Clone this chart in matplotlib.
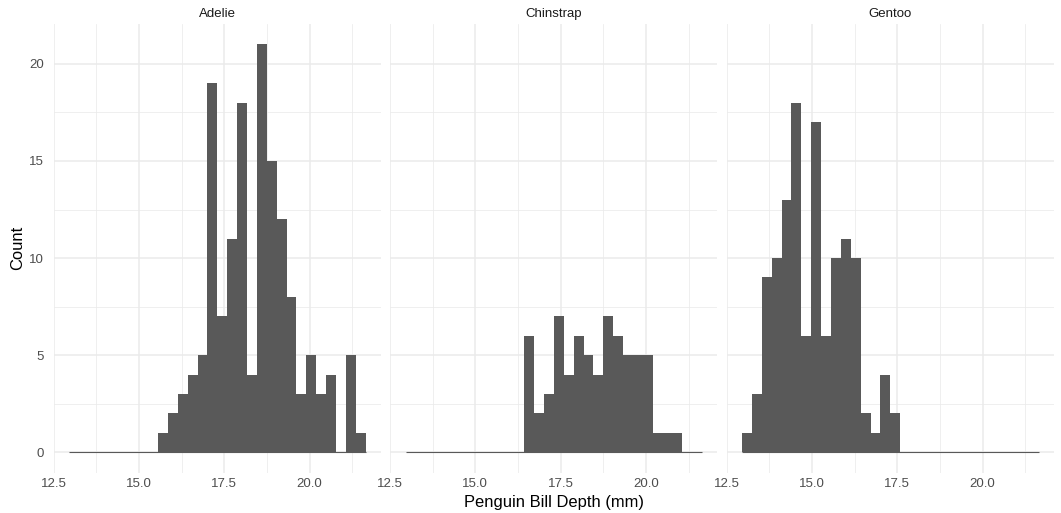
import numpy as np
import matplotlib
matplotlib.use("Agg")
import matplotlib.pyplot as plt
from matplotlib.ticker import MultipleLocator

plt.rcParams['font.family'] = ['Liberation Sans', 'DejaVu Sans']

# ---- data ----
species = ["Adelie", "Chinstrap", "Gentoo"]
depth_min = 13.1   # smallest bill depth (mm)
depth_max = 21.5   # largest bill depth (mm)
n_bins = 30
adelie_counts = [0, 0, 0, 0, 0, 0, 0, 0, 0, 1, 2, 3, 4, 5, 19,
                 7, 11, 18, 4, 21, 15, 12, 8, 3, 5, 3, 4, 0, 5, 1]
chinstrap_counts = [0, 0, 0, 0, 0, 0, 0, 0, 0, 0, 0, 0, 6, 2, 3,
                    7, 4, 6, 5, 4, 7, 6, 5, 5, 5, 1, 1, 1, 0, 0]
gentoo_counts = [1, 3, 9, 10, 13, 18, 6, 17, 6, 10, 11, 10, 2, 1, 4,
                 2, 0, 0, 0, 0, 0, 0, 0, 0, 0, 0, 0, 0, 0, 0]
counts = [adelie_counts, chinstrap_counts, gentoo_counts]
x_ticks = [12.5, 15.0, 17.5, 20.0]
x_tick_labels = ["12.5", "15.0", "17.5", "20.0"]
y_ticks = [0, 5, 10, 15, 20]

# ggplot-style bins: centred on the data min, width = range/(bins-1)
width = (depth_max - depth_min) / (n_bins - 1)
centers = depth_min + width * np.arange(n_bins)
lo_edge = centers[0] - width / 2
hi_edge = centers[-1] + width / 2

W, H = 1061, 513
fig = plt.figure(figsize=(W / 100, H / 100), dpi=100)
fig.patch.set_facecolor("white")

bar_col = "#595959"
grid_col = "#EBEBEB"
lefts = [53.5, 390.0, 726.5]
pw = 327.0
top_px, bot_px = 24.0, 472.7

ymax = max(max(c) for c in counts)
span = hi_edge - lo_edge
xlim = (lo_edge - 0.05 * span, hi_edge + 0.05 * span)
ylim = (-0.05 * ymax, ymax * 1.05)

for i, (sp, cnt) in enumerate(zip(species, counts)):
    ax = fig.add_axes([lefts[i] / W, 1 - bot_px / H, pw / W, (bot_px - top_px) / H])
    ax.set_xlim(*xlim)
    ax.set_ylim(*ylim)
    for s in ax.spines.values():
        s.set_visible(False)
    ax.xaxis.set_minor_locator(MultipleLocator(1.25))
    ax.yaxis.set_minor_locator(MultipleLocator(2.5))
    ax.set_xticks(x_ticks)
    ax.set_xticklabels(x_tick_labels)
    ax.set_yticks(y_ticks)
    ax.grid(True, which="major", color=grid_col, lw=1.1)
    ax.grid(True, which="minor", color=grid_col, lw=0.55)
    ax.set_axisbelow(True)
    ax.tick_params(which="both", length=0)
    ax.tick_params(axis="x", labelsize=9.5, labelcolor="#4D4D4D", pad=3.5)
    ax.tick_params(axis="y", labelsize=9.5, labelcolor="#4D4D4D", pad=7)
    if i > 0:
        ax.tick_params(axis="y", labelleft=False)
    ax.bar(centers, cnt, width=width, color=bar_col, linewidth=0, zorder=2)
    ax.plot([lo_edge, hi_edge], [0, 0], color=bar_col, lw=0.8, zorder=2,
            solid_capstyle="butt")
    ax.set_title(sp, fontsize=9.5, color="#1A1A1A", pad=5)

fig.text(18 / W, 1 - 248 / H, "Count", rotation=90, ha="center", va="center",
         fontsize=11.9, color="black")
fig.text((lefts[1] + pw / 2) / W, 1 - 502.5 / H, "Penguin Bill Depth (mm)",
         ha="center", va="center", fontsize=11.9, color="black")

fig.savefig("out.png", dpi=100, facecolor="white")
